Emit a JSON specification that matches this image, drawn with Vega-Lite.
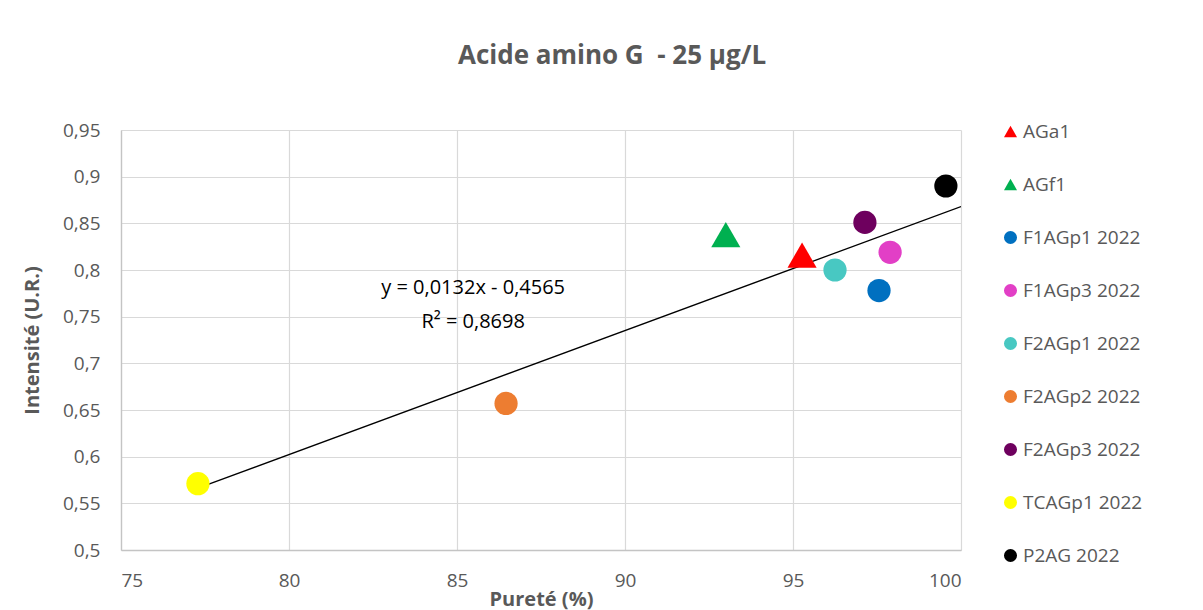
{
  "$schema": "https://vega.github.io/schema/vega-lite/v6.json",
  "autosize": {"type": "none"},
  "padding": {"left": 121, "top": 130, "right": 242, "bottom": 60},
  "width": 840,
  "height": 420,
  "background": "white",
  "title": {
    "text": "Acide amino G \u00a0- 25 µg/L",
    "font": "Open Sans",
    "fontSize": 26,
    "fontWeight": "bold",
    "color": "#595959",
    "anchor": "middle",
    "dx": 71,
    "offset": 52
  },
  "datasets": {
    "points": [
      {"name": "AGa1", "kind": "tri", "purete": 95.27, "intensite": 0.816},
      {"name": "AGf1", "kind": "tri", "purete": 93.0, "intensite": 0.838},
      {"name": "F1AGp1 2022", "kind": "dot", "purete": 97.56, "intensite": 0.778},
      {"name": "F1AGp3 2022", "kind": "dot", "purete": 97.89, "intensite": 0.819},
      {"name": "F2AGp1 2022", "kind": "dot", "purete": 96.25, "intensite": 0.800},
      {"name": "F2AGp2 2022", "kind": "dot", "purete": 86.46, "intensite": 0.657},
      {"name": "F2AGp3 2022", "kind": "dot", "purete": 97.14, "intensite": 0.851},
      {"name": "TCAGp1 2022", "kind": "dot", "purete": 77.29, "intensite": 0.571},
      {"name": "P2AG 2022", "kind": "dot", "purete": 99.55, "intensite": 0.890}
    ]
  },
  "encoding": {
    "x": {
      "field": "purete",
      "type": "quantitative",
      "scale": {"domain": [75, 100], "nice": false, "zero": false},
      "axis": {
        "title": "Pureté (%)",
        "values": [75, 80, 85, 90, 95, 100],
        "grid": true,
        "ticks": false,
        "labelPadding": 21,
        "titlePadding": -1
      }
    },
    "y": {
      "field": "intensite",
      "type": "quantitative",
      "scale": {"domain": [0.5, 0.95], "nice": false, "zero": false},
      "axis": {
        "title": "Intensité (U.R.)",
        "values": [0.5, 0.55, 0.6, 0.65, 0.7, 0.75, 0.8, 0.85, 0.9, 0.95],
        "labelExpr": "replace(format(datum.value, '~g'), '.', ',')",
        "grid": true,
        "ticks": false,
        "labelPadding": 21,
        "titlePadding": 20
      }
    }
  },
  "layer": [
    {
      "data": {"name": "points"},
      "transform": [
        {"regression": "intensite", "on": "purete", "extent": [77.29, 100]}
      ],
      "mark": {"type": "line", "color": "black", "strokeWidth": 1.3, "clip": true},
      "encoding": {
        "x": {"field": "purete", "type": "quantitative"},
        "y": {"field": "intensite", "type": "quantitative"}
      }
    },
    {
      "data": {"name": "points"},
      "transform": [{"filter": "datum.kind === 'dot'"}],
      "mark": {"type": "point", "filled": true, "opacity": 1, "strokeWidth": 0, "size": 540},
      "encoding": {
        "color": {
          "field": "name", "type": "nominal",
          "scale": {
            "domain": ["AGa1", "AGf1", "F1AGp1 2022", "F1AGp3 2022", "F2AGp1 2022", "F2AGp2 2022", "F2AGp3 2022", "TCAGp1 2022", "P2AG 2022"],
            "range": ["#FF0000", "#00B050", "#0070C0", "#E23FC6", "#48C8C2", "#ED7D31", "#6E005E", "#FFFF00", "#000000"]
          }
        },
        "shape": {
          "field": "name", "type": "nominal",
          "scale": {
            "domain": ["AGa1", "AGf1", "F1AGp1 2022", "F1AGp3 2022", "F2AGp1 2022", "F2AGp2 2022", "F2AGp3 2022", "TCAGp1 2022", "P2AG 2022"],
            "range": ["triangle-up", "triangle-up", "circle", "circle", "circle", "circle", "circle", "circle", "circle"]
          }
        }
      }
    },
    {
      "data": {"name": "points"},
      "transform": [{"filter": "datum.kind === 'tri'"}],
      "mark": {"type": "point", "filled": true, "opacity": 1, "strokeWidth": 0, "size": 850},
      "encoding": {
        "color": {
          "field": "name", "type": "nominal",
          "scale": {
            "domain": ["AGa1", "AGf1", "F1AGp1 2022", "F1AGp3 2022", "F2AGp1 2022", "F2AGp2 2022", "F2AGp3 2022", "TCAGp1 2022", "P2AG 2022"],
            "range": ["#FF0000", "#00B050", "#0070C0", "#E23FC6", "#48C8C2", "#ED7D31", "#6E005E", "#FFFF00", "#000000"]
          }
        },
        "shape": {
          "field": "name", "type": "nominal",
          "scale": {
            "domain": ["AGa1", "AGf1", "F1AGp1 2022", "F1AGp3 2022", "F2AGp1 2022", "F2AGp2 2022", "F2AGp3 2022", "TCAGp1 2022", "P2AG 2022"],
            "range": ["triangle-up", "triangle-up", "circle", "circle", "circle", "circle", "circle", "circle", "circle"]
          }
        }
      }
    },
    {
      "data": {"values": [{"purete": 85.48, "intensite": 0.781, "label": ["y = 0,0132x - 0,4565", "R² = 0,8698"]}]},
      "mark": {"type": "text", "font": "Open Sans", "fontSize": 20, "color": "black", "align": "center", "baseline": "middle", "lineHeight": 34},
      "encoding": {
        "text": {"field": "label"}
      }
    }
  ],
  "resolve": {"scale": {"color": "shared", "shape": "shared"}},
  "config": {
    "font": "Open Sans",
    "view": {"stroke": null},
    "legend": {
      "title": null,
      "orient": "none",
      "legendX": 880,
      "legendY": -8,
      "padding": 0,
      "symbolSize": 170,
      "symbolStrokeWidth": 0,
      "labelFont": "Open Sans",
      "labelFontSize": 19,
      "labelColor": "#595959",
      "labelOffset": 3,
      "rowPadding": 33,
      "labelLimit": 300
    },
    "axis": {
      "labelFont": "Open Sans",
      "labelFontSize": 19,
      "labelColor": "#595959",
      "titleFont": "Open Sans",
      "titleFontSize": 20,
      "titleFontWeight": "bold",
      "titleColor": "#595959",
      "gridColor": "#d9d9d9",
      "gridWidth": 1.2,
      "domainColor": "#c4c4c4",
      "domainWidth": 1.3
    }
  }
}
